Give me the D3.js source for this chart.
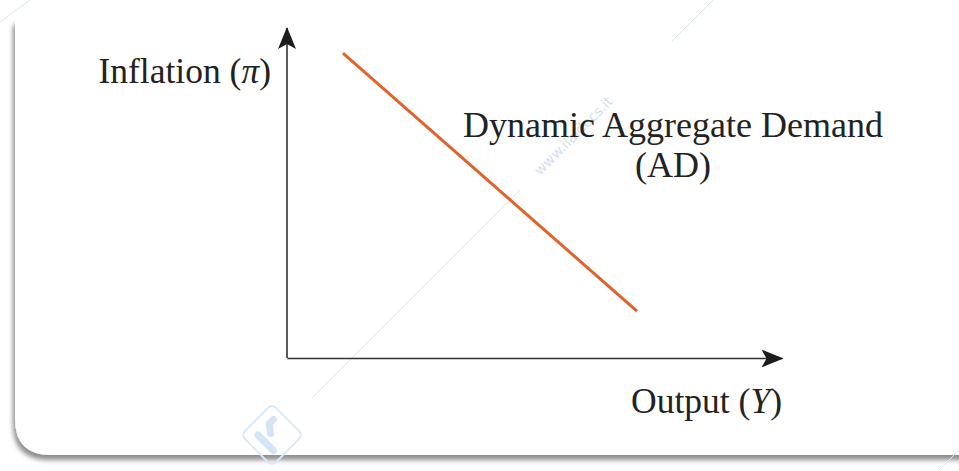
<!DOCTYPE html>
<html>
<head>
<meta charset="utf-8">
<script src="https://cdn.jsdelivr.net/npm/d3@7"></script>
<style>
  html, body { margin: 0; padding: 0; background: #fff; }
  svg { display: block; }
</style>
</head>
<body>
<div id="chart"></div>
<script>
// abstract model units (0..10 on both axes)
const outputDomain = [0, 10];
const inflationDomain = [0, 10];
// Dynamic AD curve: two end points
const adOutput = [1.13, 7.07];
const adInflation = [9.24, 1.42];

const xLabel = "Output (";
const xVar = "Y";
const yLabel = "Inflation (";
const yVar = "\u03C0";
const curveLabel = ["Dynamic Aggregate Demand", "(AD)"];

const W = 959, H = 471;
const origin = { x: 287, y: 358 };
const xEnd = 782, yTop = 28;

const svg = d3.select("#chart").append("svg")
  .attr("width", W).attr("height", H);

const defs = svg.append("defs");
const shadow = defs.append("filter").attr("id", "shadow")
  .attr("x", "-5%").attr("y", "-5%").attr("width", "110%").attr("height", "115%");
shadow.append("feGaussianBlur").attr("in", "SourceAlpha").attr("stdDeviation", 2.5);
shadow.append("feOffset").attr("dx", -2).attr("dy", 5).attr("result", "off");
shadow.append("feComponentTransfer").append("feFuncA").attr("type", "linear").attr("slope", 0.45);
const merge = shadow.append("feMerge");
merge.append("feMergeNode");
merge.append("feMergeNode").attr("in", "SourceGraphic");

defs.append("marker")
  .attr("id", "arrow")
  .attr("viewBox", "0 0 22 18")
  .attr("refX", 21).attr("refY", 9)
  .attr("markerWidth", 22).attr("markerHeight", 18)
  .attr("markerUnits", "userSpaceOnUse")
  .attr("orient", "auto")
  .append("path")
  .attr("d", "M0,0 L22,9 L0,18 L5,9 Z")
  .attr("fill", "#1c1c1c");

// card with shadow
const r = 36;
svg.append("path")
  .attr("d", `M15,24 Q15,18 21,18 L975,18 L975,455 L${15 + r},455 Q15,455 15,${455 - r} Z`)
  .attr("fill", "#fff")
  .attr("filter", "url(#shadow)");

// faint watermark
const wm = svg.append("g").attr("stroke", "#d6e6f5").attr("stroke-width", 1).attr("fill", "none");
wm.append("line").attr("x1", 313).attr("y1", 397).attr("x2", 520).attr("y2", 190);
wm.append("line").attr("x1", 672).attr("y1", 41).attr("x2", 713).attr("y2", 0);
wm.append("line").attr("x1", 0).attr("y1", 22).attr("x2", 30).attr("y2", 0);
wm.append("line").attr("x1", 938).attr("y1", 471).attr("x2", 959).attr("y2", 450);
svg.append("text")
  .attr("transform", "translate(540,176) rotate(-45)")
  .attr("font-family", "DejaVu Sans, sans-serif")
  .attr("font-size", 14)
  .attr("fill", "#cfe0f2")
  .text("www.ilaidocs.it");
svg.append("g").attr("transform", "translate(272,435) rotate(-45)")
  .call(g => {
    g.append("rect").attr("x", -22).attr("y", -22).attr("width", 44).attr("height", 44)
      .attr("rx", 6).attr("fill", "none").attr("stroke", "#dbe9f6").attr("stroke-width", 2);
    g.append("path").attr("d", "M-10,-10 L-10,12 M0,-2 L6,-10 L12,-10")
      .attr("stroke", "#d3e4f4").attr("stroke-width", 7).attr("stroke-linecap", "round").attr("fill", "none");
  });

const x = d3.scaleLinear().domain(outputDomain).range([origin.x, xEnd]);
const y = d3.scaleLinear().domain(inflationDomain).range([origin.y, yTop]);

// axes (no ticks) with arrowheads
svg.append("g")
  .attr("transform", `translate(0,${origin.y})`)
  .call(d3.axisBottom(x).ticks(0).tickSizeOuter(0))
  .call(g => g.select(".domain").attr("stroke", "#333").attr("stroke-width", 1.6)
    .attr("marker-end", "url(#arrow)"));

svg.append("g")
  .attr("transform", `translate(${origin.x},0)`)
  .call(d3.axisLeft(y).ticks(0).tickSizeOuter(0))
  .call(g => g.select(".domain").attr("stroke", "#333").attr("stroke-width", 1.6)
    .attr("d", `M0,${origin.y}V${yTop}`)
    .attr("marker-end", "url(#arrow)"));

// AD curve
const pts = adOutput.map((v, i) => ({ o: v, p: adInflation[i] }));
svg.append("path")
  .datum(pts)
  .attr("fill", "none")
  .attr("stroke", "#e2622b")
  .attr("stroke-width", 3)
  .attr("d", d3.line().x(d => x(d.o)).y(d => y(d.p)));

const font = "Liberation Serif, Times New Roman, serif";
const fs = 35.5;

const yl = svg.append("text")
  .attr("x", 271).attr("y", 83)
  .attr("text-anchor", "end")
  .attr("font-family", font).attr("font-size", fs).attr("fill", "#222");
yl.append("tspan").text(yLabel);
yl.append("tspan").attr("font-style", "italic").text(yVar);
yl.append("tspan").text(")");

const xl = svg.append("text")
  .attr("x", 782).attr("y", 413)
  .attr("text-anchor", "end")
  .attr("font-family", font).attr("font-size", fs).attr("fill", "#222");
xl.append("tspan").text(xLabel);
xl.append("tspan").attr("font-style", "italic").text(xVar);
xl.append("tspan").text(")");

svg.append("g")
  .selectAll("text")
  .data(curveLabel)
  .join("text")
  .attr("x", 673)
  .attr("y", (d, i) => 137 + i * 40)
  .attr("text-anchor", "middle")
  .attr("font-family", font).attr("font-size", 36).attr("fill", "#222")
  .text(d => d);
</script>
</body>
</html>
